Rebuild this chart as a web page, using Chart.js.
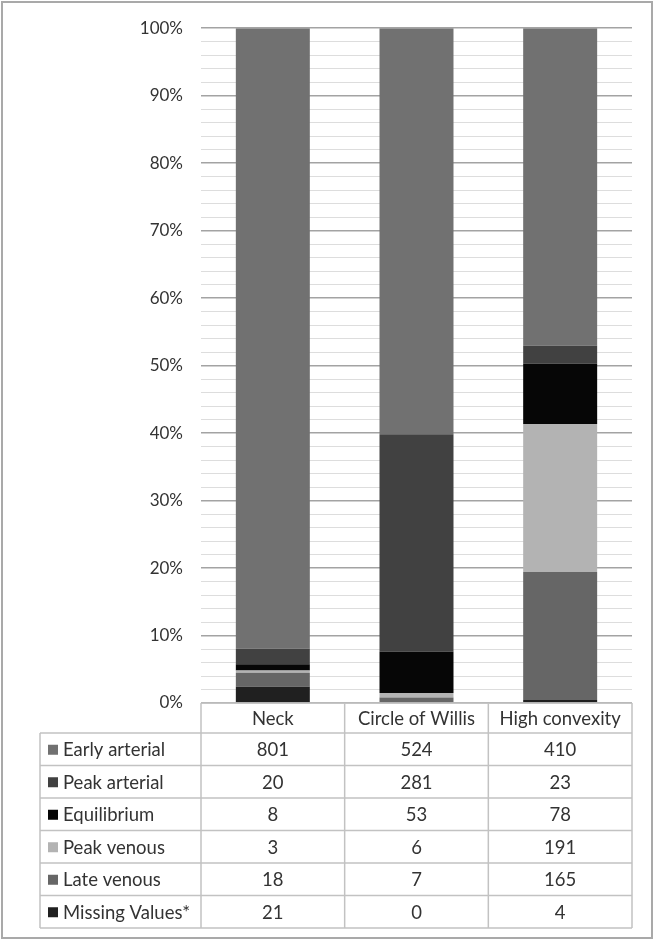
<!DOCTYPE html>
<html>
<head>
<meta charset="utf-8">
<script src="https://cdn.jsdelivr.net/npm/chart.js@4.4.1/dist/chart.umd.min.js"></script>
<style>
  html, body { margin: 0; padding: 0; background: #fff; }
  canvas { display: block; }
</style>
</head>
<body>
<canvas id="chart" width="658" height="942"></canvas>
<script>
// categories on the x axis (also the table header)
const regions = ['Neck', 'Circle of Willis', 'High convexity'];

// counts per contrast phase, one value per region
const earlyArterial = [801, 524, 410];
const peakArterial = [20, 281, 23];
const equilibrium = [8, 53, 78];
const peakVenous = [3, 6, 191];
const lateVenous = [18, 7, 165];
const missingValues = [21, 0, 4];

// table order, top row first (stack order is the reverse)
const seriesNames = ['Early arterial', 'Peak arterial', 'Equilibrium', 'Peak venous', 'Late venous', 'Missing Values*'];
const seriesData = [earlyArterial, peakArterial, equilibrium, peakVenous, lateVenous, missingValues];
const seriesColors = ['#717171', '#414141', '#060606', '#b3b3b3', '#666666', '#202020'];

// labelled y ticks, in percent
const percentTicks = [0, 10, 20, 30, 40, 50, 60, 70, 80, 90, 100];

const FONT = 'Lato, "Open Sans", sans-serif';
const TEXT = '#333333';

// column totals so each bar fills 100%
const totals = regions.map((r, i) => seriesData.reduce((s, arr) => s + arr[i], 0));

const datasets = seriesNames.map((name, k) => ({
  label: name,
  data: seriesData[k].map((v, i) => v / totals[i] * 100),
  backgroundColor: seriesColors[k],
  borderWidth: 0,
  categoryPercentage: 1,
  barPercentage: 0.515
})).reverse();

const isMajor = v => percentTicks.includes(Math.round(v));

// data table under the plot + the outer frame
const tablePlugin = {
  id: 'dataTable',
  afterDraw(chart) {
    const ctx = chart.ctx;
    const x = chart.scales.x;
    const area = chart.chartArea;
    const colW = (x.right - x.left) / regions.length;
    const labelLeft = 40;
    const headTop = area.bottom;
    const headH = 30;
    const rowH = 32.5;
    const rowsTop = headTop + headH;
    const bottom = rowsTop + rowH * seriesNames.length;

    ctx.save();
    ctx.strokeStyle = '#c2c2c2';
    ctx.lineWidth = 1.5;

    ctx.beginPath();
    ctx.moveTo(x.left, headTop);
    ctx.lineTo(x.right, headTop);
    for (let r = 0; r <= seriesNames.length; r++) {
      ctx.moveTo(labelLeft, rowsTop + r * rowH);
      ctx.lineTo(x.right, rowsTop + r * rowH);
    }
    ctx.moveTo(labelLeft, rowsTop);
    ctx.lineTo(labelLeft, bottom);
    for (let c = 0; c <= regions.length; c++) {
      const cx = x.left + c * colW;
      ctx.moveTo(cx, headTop);
      ctx.lineTo(cx, bottom);
    }
    ctx.stroke();

    ctx.font = '18.5px ' + FONT;
    ctx.fillStyle = TEXT;
    ctx.textBaseline = 'middle';
    ctx.textAlign = 'center';
    regions.forEach((name, i) => {
      ctx.fillText(name, x.getPixelForValue(i), headTop + headH / 2 + 1);
    });

    seriesNames.forEach((name, k) => {
      const cy = rowsTop + k * rowH + rowH / 2 + 1;
      ctx.fillStyle = seriesColors[k];
      ctx.fillRect(48, cy - 5.5, 10, 10);
      ctx.fillStyle = TEXT;
      ctx.textAlign = 'left';
      ctx.fillText(name, 63, cy);
      ctx.textAlign = 'center';
      seriesData[k].forEach((v, i) => {
        ctx.fillText(String(v), x.getPixelForValue(i), cy);
      });
    });

    // outer frame
    ctx.strokeStyle = '#a9a9a9';
    ctx.lineWidth = 2;
    ctx.strokeRect(2, 2, 650, 936);
    ctx.restore();
  }
};

new Chart(document.getElementById('chart'), {
  type: 'bar',
  data: { labels: regions, datasets: datasets },
  options: {
    responsive: false,
    animation: false,
    layout: { padding: { left: 0, right: 26, top: 27, bottom: 239 } },
    plugins: {
      legend: { display: false },
      tooltip: { enabled: false }
    },
    scales: {
      x: {
        stacked: true,
        display: false
      },
      y: {
        stacked: true,
        min: 0,
        max: 100,
        afterFit(scale) { scale.width = 201; },
        border: { display: false },
        grid: {
          drawTicks: false,
          color: c => isMajor(c.tick.value) ? '#a3a3a3' : '#dddddd',
          lineWidth: c => isMajor(c.tick.value) ? 1.5 : 1
        },
        ticks: {
          stepSize: 2,
          autoSkip: false,
          padding: 18,
          color: TEXT,
          font: { size: 17, family: FONT },
          callback: v => isMajor(v) ? Math.round(v) + '%' : ''
        }
      }
    }
  },
  plugins: [tablePlugin]
});
</script>
</body>
</html>
